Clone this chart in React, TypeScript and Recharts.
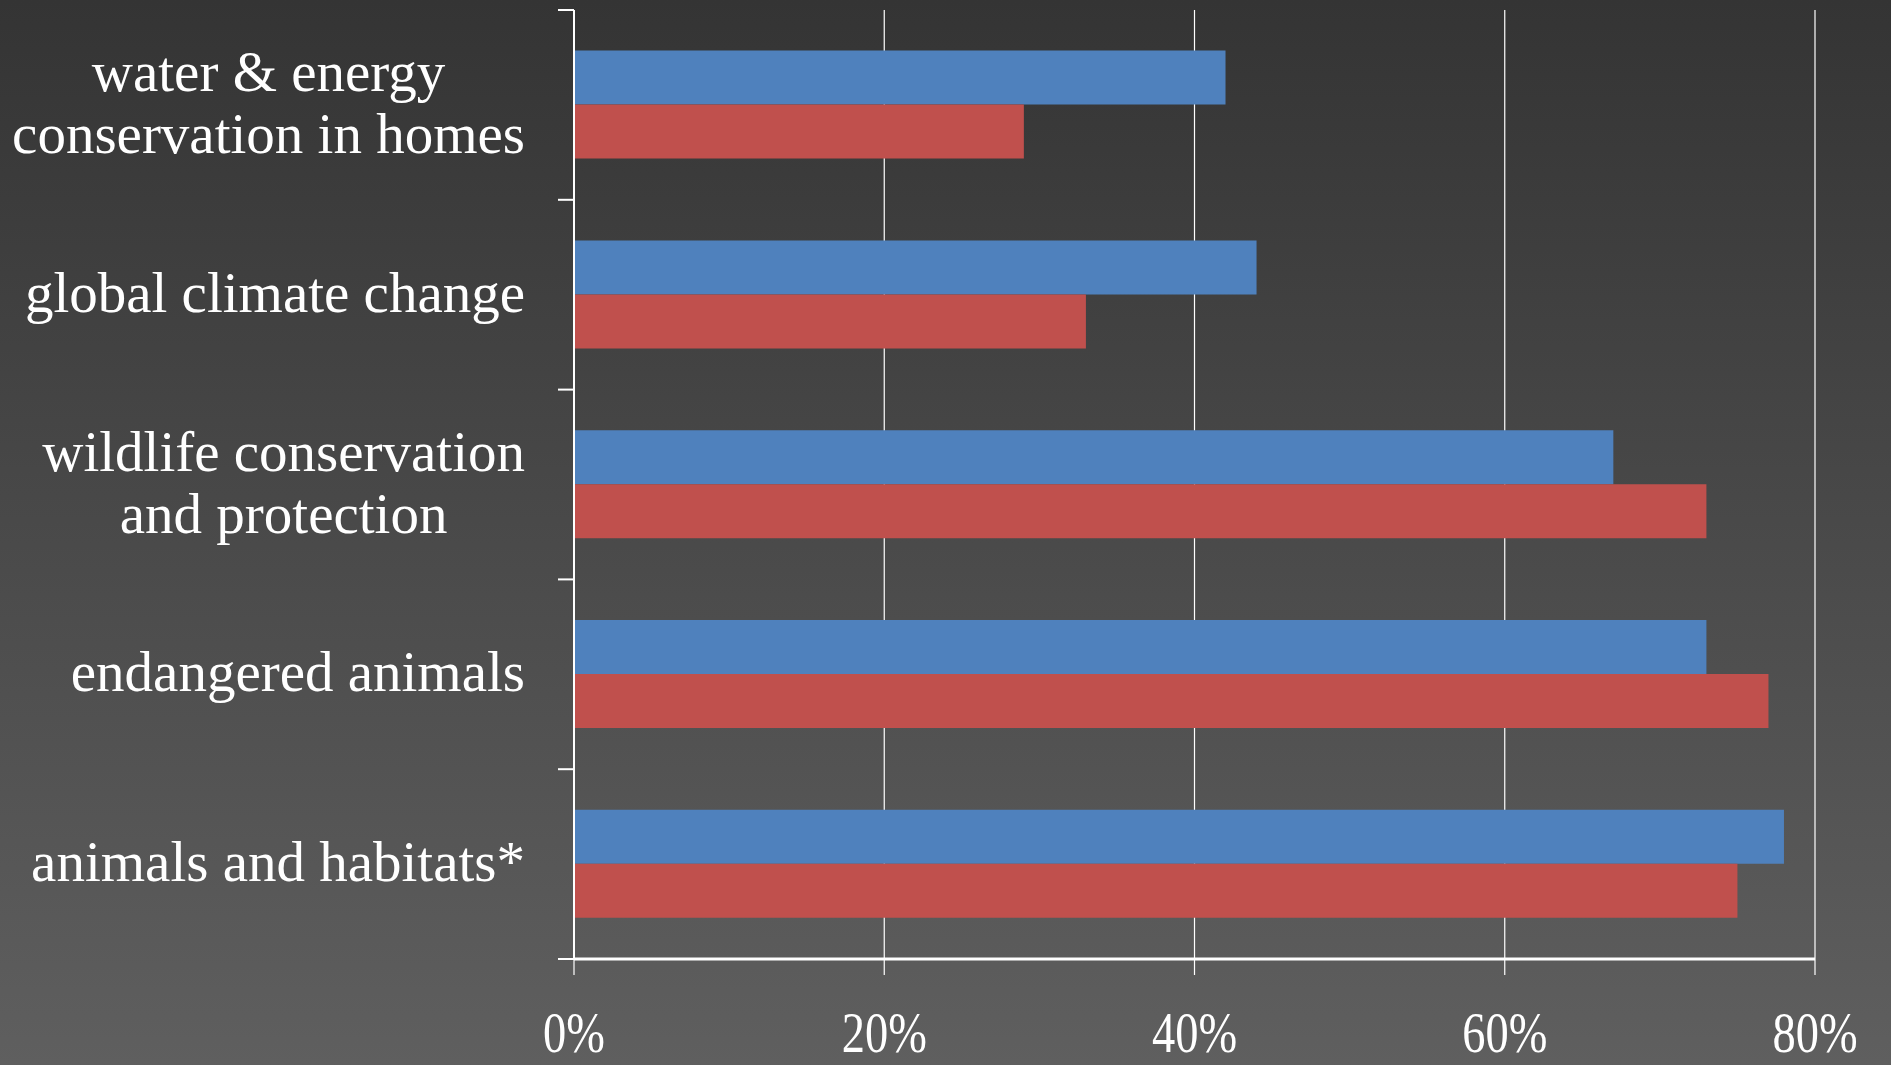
import { BarChart, Bar, XAxis, YAxis, CartesianGrid } from 'recharts';

const categories = [
  'water & energy\nconservation in homes',
  'global climate change',
  'wildlife conservation\nand protection',
  'endangered animals',
  'animals and habitats*',
];
const blueValues = [42, 44, 67, 73, 78];
const redValues = [29, 33, 73, 77, 75];
const xTicks = [0, 20, 40, 60, 80];

const data = categories.map((name, i) => ({
  name,
  blue: blueValues[i],
  red: redValues[i],
}));

const W = 1891;
const H = 1065;
const Y_AXIS_W = 574;
const TICK = 16;
const FONT = '"Liberation Serif", "DejaVu Serif", serif';

const YTick = (props: any) => {
  const { y, payload, index } = props;
  const half = payload?.offset ?? 95;
  const last = index === categories.length - 1;
  return (
    <g>
      <line x1={Y_AXIS_W - TICK} x2={Y_AXIS_W} y1={y - half} y2={y - half} stroke="#fff" strokeWidth={2} />
      {last && (
        <line x1={Y_AXIS_W - TICK} x2={Y_AXIS_W} y1={y + half} y2={y + half} stroke="#fff" strokeWidth={2} />
      )}
      <foreignObject x={0} y={y - 100} width={525} height={200}>
        <div
          style={{
            display: 'flex',
            alignItems: 'center',
            justifyContent: 'flex-end',
            height: '100%',
          }}
        >
          <div
            style={{
              textAlign: 'center',
              whiteSpace: 'pre',
              lineHeight: '62px',
              fontSize: 57,
              color: '#fff',
              fontFamily: FONT,
              transform: 'translateY(-2px)',
            }}
          >
            {payload.value}
          </div>
        </div>
      </foreignObject>
    </g>
  );
};

const XTick = (props: any) => {
  const { x, y, payload } = props;
  return (
    <g transform={`translate(${x},${y + 75})`}>
      <text
        transform="scale(0.8,1)"
        textAnchor="middle"
        fill="#fff"
        fontSize={58}
        fontFamily={FONT}
      >
        {`${payload.value}%`}
      </text>
    </g>
  );
};

export default function App() {
  return (
    <div
      style={{
        position: 'fixed',
        left: 0,
        top: 0,
        width: W,
        height: H,
        background: 'linear-gradient(#343434, #5f5f5f)',
      }}
    >
      <BarChart
        width={W}
        height={H}
        data={data}
        layout="vertical"
        margin={{ top: 10, right: 76, bottom: 0, left: 0 }}
        barCategoryGap="21.4%"
        barGap={0}
      >
        <CartesianGrid horizontal={false} stroke="#fff" strokeWidth={1.2} />
        <XAxis
          type="number"
          domain={[0, 80]}
          ticks={xTicks}
          height={106}
          tickSize={TICK}
          axisLine={{ stroke: '#fff', strokeWidth: 3 }}
          tickLine={{ stroke: '#fff', strokeWidth: 1.2 }}
          tick={<XTick />}
          interval={0}
        />
        <YAxis
          type="category"
          dataKey="name"
          width={Y_AXIS_W}
          tickSize={TICK}
          axisLine={{ stroke: '#fff', strokeWidth: 2 }}
          tickLine={false}
          tick={<YTick />}
          interval={0}
        />
        <Bar dataKey="blue" name="Series 1" fill="#4f81bd" isAnimationActive={false} />
        <Bar dataKey="red" name="Series 2" fill="#c0504d" isAnimationActive={false} />
      </BarChart>
    </div>
  );
}
